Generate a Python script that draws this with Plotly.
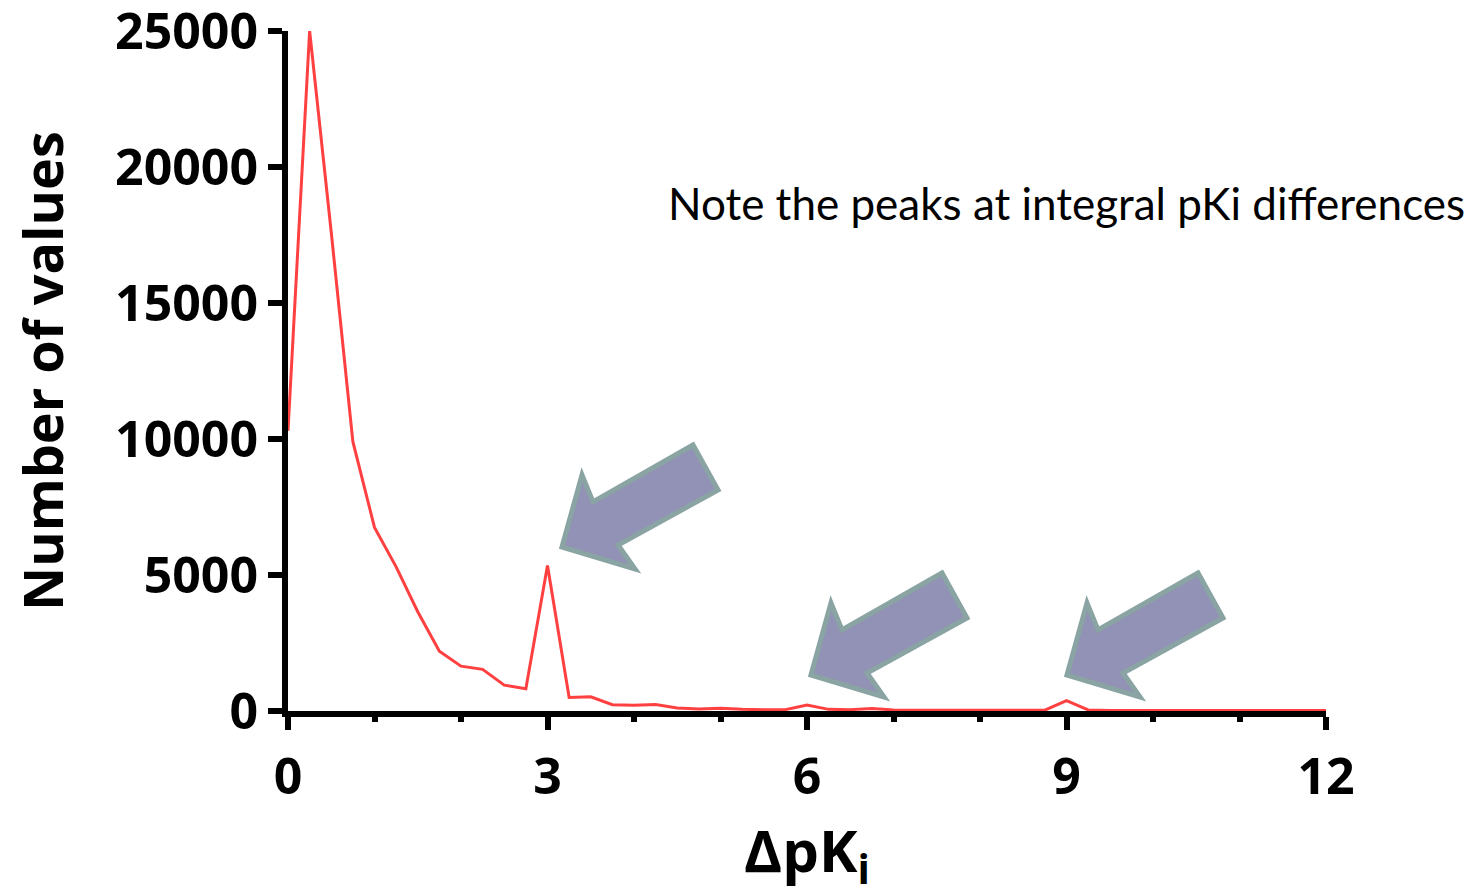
import plotly.graph_objects as go

# ---- data ----
delta_pki = [i * 0.25 for i in range(49)]
counts = [10300, 25000, 17600, 9900, 6750, 5300, 3650, 2200, 1650, 1530, 950, 820,
          5350, 500, 520, 230, 210, 240, 110, 70, 100, 60, 50, 50,
          220, 60, 50, 90, 40, 30, 30, 30, 30, 30, 30, 30,
          380, 40, 20, 20, 20, 20, 20, 20, 20, 20, 20, 20, 20]
y_ticks = [0, 5000, 10000, 15000, 20000, 25000]
x_ticks = [0, 3, 6, 9, 12]
note_text = "Note the peaks at integral pKi differences"
x_title = "ΔpK<sub>i</sub>"
y_title = "Number of values"

W, H = 1476, 888
L, R, T, B = 288, 150, 31, 177
PW, PH = W - L - R, H - T - B

def px(xp):
    return (xp - L) / PW

def py(yp):
    return (H - B - yp) / PH

fig = go.Figure()
fig.add_trace(go.Scatter(x=delta_pki, y=counts, mode="lines",
                         line=dict(color="rgb(255,64,64)", width=3),
                         showlegend=False, cliponaxis=False))

# arrow shape (pixel offsets from tip, y downward)
arrow = [(0, 0), (20, -72), (31, -45), (131, -102), (156, -57), (56, -2), (73, 22)]
tips = [(562, 547), (811, 675), (1067, 675)]
for tx, ty in tips:
    pts = [(px(tx + dx), py(ty + dy)) for dx, dy in arrow]
    path = "M " + " L ".join(f"{a:.5f},{b:.5f}" for a, b in pts) + " Z"
    fig.add_shape(type="path", path=path, xref="paper", yref="paper",
                  fillcolor="rgb(145,146,182)",
                  line=dict(color="rgb(138,163,163)", width=5), layer="above")

fig.add_annotation(text=note_text, xref="paper", yref="paper",
                   x=px(666), y=py(203), xanchor="left", yanchor="middle",
                   showarrow=False,
                   font=dict(family="Lato", size=44, color="black"))

fig.add_annotation(text=x_title, xref="paper", yref="paper",
                   x=px(807), y=py(853), xanchor="center", yanchor="middle",
                   showarrow=False,
                   font=dict(family="Open Sans", size=58, weight="bold",
                             color="black"))

tickfont = dict(family="Open Sans", size=50, weight="bold", color="black")
fig.update_xaxes(range=[0, 12], tickmode="array", tickvals=x_ticks,
                 ticktext=[str(v) for v in x_ticks],
                 showline=True, linewidth=6, linecolor="black",
                 ticks="outside", ticklen=13, tickwidth=6, tickcolor="black",
                 minor=dict(dtick=1, ticks="outside", ticklen=5, tickwidth=6,
                            tickcolor="black"),
                 showgrid=False, zeroline=False, tickfont=tickfont,
                 ticklabelstandoff=4, ticklabeloverflow="allow",
                 layer="below traces", automargin=False)
fig.update_yaxes(range=[0, 25000], tickmode="array", tickvals=y_ticks,
                 ticktext=[str(v) for v in y_ticks],
                 showline=True, linewidth=6, linecolor="black",
                 ticks="outside", ticklen=14, tickwidth=6, tickcolor="black",
                 showgrid=False, zeroline=False, tickfont=tickfont,
                 ticklabeloverflow="allow",
                 layer="below traces", automargin=False,
                 title=dict(text=y_title,
                            font=dict(family="Open Sans", size=54, weight="bold",
                                      color="black"), standoff=36))

fig.update_layout(width=W, height=H, autosize=False,
                  margin=dict(l=L, r=R, t=T, b=B, pad=0, autoexpand=False),
                  plot_bgcolor="white", paper_bgcolor="white")

fig.write_html("out.html", config={"displayModeBar": False},
               post_script="document.body.style.margin='0';")
